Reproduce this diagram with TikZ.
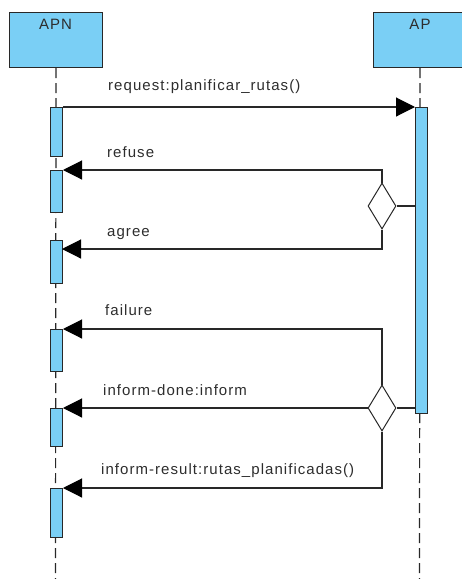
\documentclass[tikz,border=0pt]{standalone}
\usepackage{fontspec}
\setmainfont{Liberation Sans}
\newfontfamily\lblfont[LetterSpace=7]{Liberation Sans}
\usetikzlibrary{arrows.meta,shapes.geometric}
\definecolor{actblue}{RGB}{122,207,245}
\definecolor{linegray}{RGB}{40,40,40}
\definecolor{txtgray}{RGB}{45,45,45}
\begin{document}
\begin{tikzpicture}[x=1pt,y=-1pt,
  lifebox/.style={draw=linegray, line width=1pt, fill=actblue, minimum width=93pt, minimum height=55pt, inner sep=0pt, anchor=north west},
  act/.style={draw=linegray, line width=1pt, fill=actblue, minimum width=12pt, inner sep=0pt, anchor=north west},
  lifeline/.style={draw=linegray, line width=1.2pt, dash pattern=on 10pt off 5pt},
  msg/.style={draw=linegray, line width=1.1pt, -{Triangle[length=19pt,width=19pt,fill=black,color=black]}},
  conn/.style={draw=linegray, line width=1.1pt},
  lbl/.style={font=\lblfont\fontsize{15}{17}\selectfont, text=txtgray, anchor=base west, inner sep=0pt},
  ttl/.style={font=\lblfont\fontsize{15}{17}\selectfont, text=txtgray, anchor=base, inner sep=0pt},
  gate/.style={diamond, draw=linegray, line width=1pt, fill=white, minimum width=28pt, minimum height=46pt, inner sep=0pt}
]
\useasboundingbox (0,0) rectangle (462,579);
\clip (0,0) rectangle (462,579);

% lifeline heads
\node[lifebox] (apn) at (9,12) {};
\node[lifebox] (ap) at (373,12) {};
\node[ttl] (apnlbl) at (55.5,29) {APN};
\node[ttl] (aplbl) at (420,29) {AP};

% lifelines
\coordinate (apnend) at (55.5,580);
\coordinate (apend) at (419.5,580);
\draw[lifeline] (apn.south) -- (apnend);
\draw[lifeline] (ap.south) -- (apend);

% activations
\node[act, minimum height=49pt] (a1) at (50,107) {};
\node[act, minimum height=42pt] (a2) at (50,170) {};
\node[act, minimum height=43pt] (a3) at (50,240) {};
\node[act, minimum height=42pt] (a4) at (50,329) {};
\node[act, minimum height=38pt] (a5) at (50,408) {};
\node[act, minimum height=49pt] (a6) at (50,488) {};
\node[act, minimum height=306pt] (apa) at (415,107) {};

% gates
\node[gate] (g1) at (382,206) {};
\node[gate] (g2) at (382,408) {};

% messages
\draw[msg] (a1.north east) -- (apa.north west);
\draw[conn] (g1.east) -- (g1.east -| apa.west);
\draw[msg] (g1.north) |- (a2.north east);
\coordinate (t3) at (62,249);
\draw[msg] (g1.south) |- (t3);
\draw[conn] (g2.east) -- (g2.east -| apa.west);
\draw[msg] (g2.north) |- (a4.north east);
\draw[msg] (g2.west) -- (a5.north east);
\draw[msg] (g2.south) |- (a6.north east);

% labels
\node[lbl] (l1) at (108,90) {request:planificar\_rutas()};
\node[lbl] (l2) at (107,157) {refuse};
\node[lbl] (l3) at (107,236) {agree};
\node[lbl] (l4) at (105,315) {failure};
\node[lbl] (l5) at (103,395) {inform-done:inform};
\node[lbl] (l6) at (101,474) {inform-result:rutas\_planificadas()};
\end{tikzpicture}
\end{document}
